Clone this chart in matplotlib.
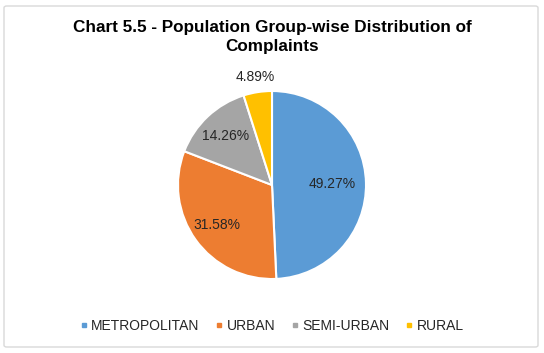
import matplotlib
matplotlib.use("Agg")
import matplotlib.pyplot as plt
from matplotlib.patches import FancyBboxPatch
import numpy as np

categories = ["METROPOLITAN", "URBAN", "SEMI-URBAN", "RURAL"]
values = [49.27, 31.58, 14.26, 4.89]
labels = ["49.27%", "31.58%", "14.26%", "4.89%"]
colors = ["#5B9BD5", "#ED7D31", "#A5A5A5", "#FFC000"]
label_dist = [0.64, 0.72, 0.72, 1.16]

plt.rcParams['font.family'] = ['Liberation Sans', 'DejaVu Sans']

W, H = 544, 353
fig = plt.figure(figsize=(W / 100, H / 100), dpi=100)
fig.patch.set_facecolor("white")

# border
border = FancyBboxPatch((4 / W, 6 / H), 534 / W, 341 / H,
                        boxstyle="round,pad=0,rounding_size=0.005",
                        transform=fig.transFigure, fill=False,
                        edgecolor="#D9D9D9", linewidth=1.0)
fig.patches.append(border)

cx, cy, R = 272, 185, 94
lim = 1.3
side = 2 * R * lim
ax = fig.add_axes([(cx - side / 2) / W, (H - cy - side / 2) / H, side / W, side / H])
wedges, _ = ax.pie(values, colors=colors, startangle=90, counterclock=False,
                   wedgeprops=dict(edgecolor="white", linewidth=1.5))
ax.set_xlim(-lim, lim)
ax.set_ylim(-lim, lim)
ax.set_aspect("equal")
ax.axis("off")

for w, lab, d in zip(wedges, labels, label_dist):
    ang = np.deg2rad((w.theta1 + w.theta2) / 2)
    ax.text(d * np.cos(ang), d * np.sin(ang), lab, ha="center", va="center",
            fontsize=10, color="#262626")

fig.text(0.5, (H - 37) / H, "Chart 5.5 - Population Group-wise Distribution of\nComplaints",
         ha="center", va="center", fontsize=12.3, fontweight="bold", color="black",
         linespacing=1.3)

handles = [plt.Line2D([], [], marker="s", linestyle="", markersize=3.5,
                      markerfacecolor=c, markeredgecolor=c) for c in colors]
fig.legend(handles, categories, loc="center", bbox_to_anchor=(0.5, (H - 326) / H),
           ncol=4, frameon=False, fontsize=10, handlelength=0.5, handletextpad=0.3,
           columnspacing=1.15, labelcolor="#262626")

fig.savefig("out.png", dpi=100, facecolor="white")
